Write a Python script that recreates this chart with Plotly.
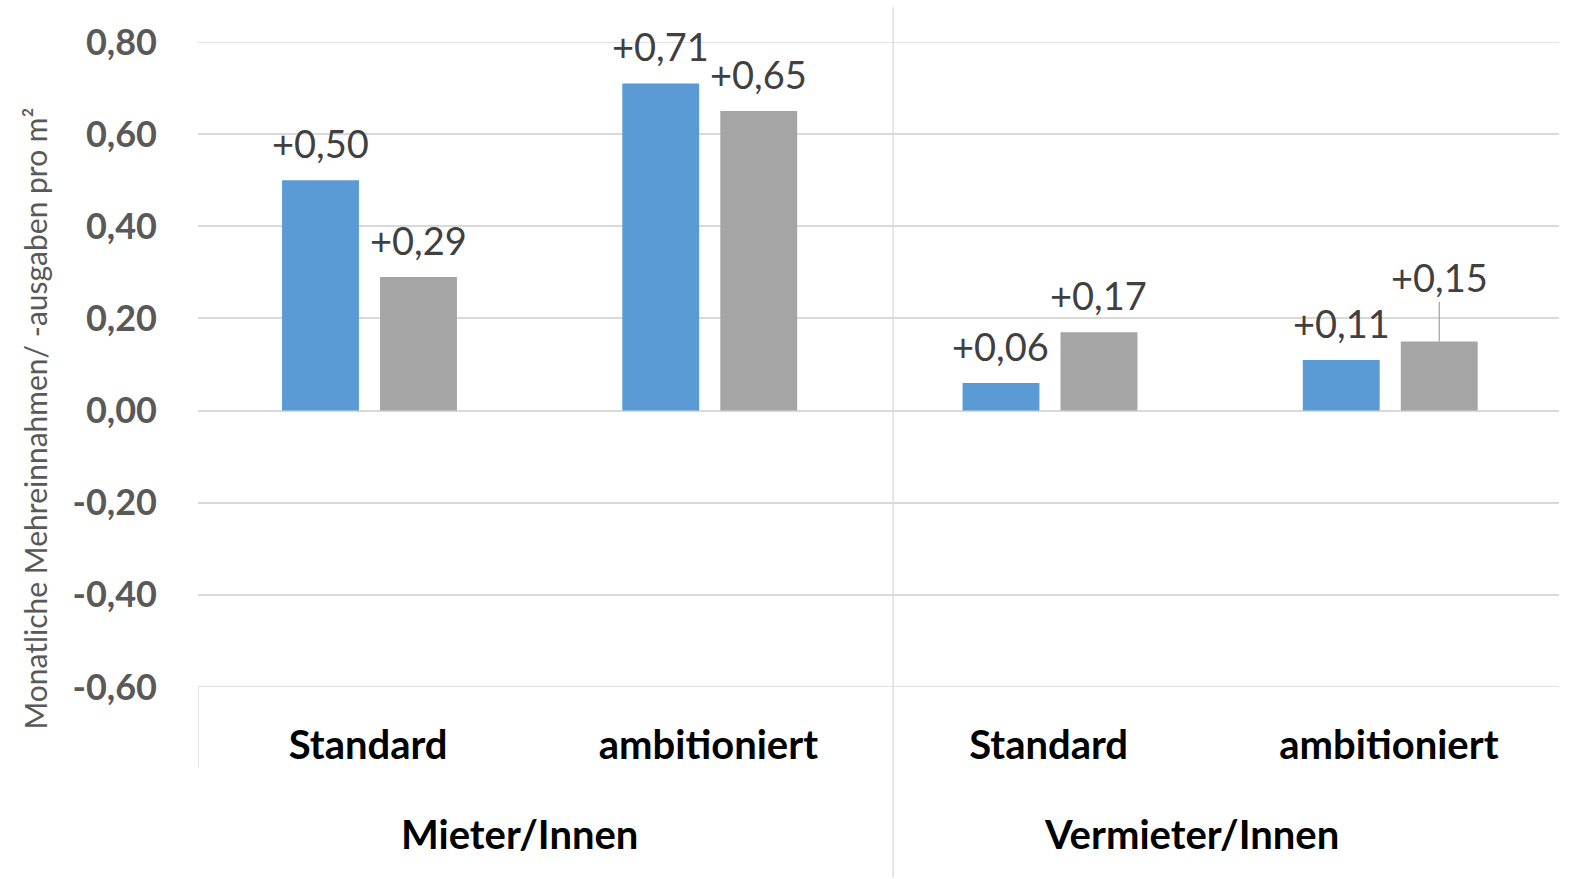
import plotly.graph_objects as go

# Data
categories = ["Standard", "ambitioniert", "Standard", "ambitioniert"]
groups = ["Mieter/Innen", "Vermieter/Innen"]
series_a = [0.50, 0.71, 0.06, 0.11]   # blue bars
series_b = [0.29, 0.65, 0.17, 0.15]   # grey bars
y_ticks = [0.80, 0.60, 0.40, 0.20, 0.00, -0.20, -0.40, -0.60]

BLUE = "#5B9BD5"
GREY = "#A5A5A5"
GRID = "#D9D9D9"
FONT = "Lato"

x_pos = list(range(len(categories)))
bar_w = 0.226
off_a = -0.253
off_b = 0.035


def fmt(v):
    return ("+" if v >= 0 else "") + f"{v:.2f}".replace(".", ",")


fig = go.Figure()
fig.add_trace(go.Bar(x=x_pos, y=series_a, width=bar_w, offset=off_a,
                     marker=dict(color=BLUE, line=dict(width=0)),
                     showlegend=False, hoverinfo="skip"))
fig.add_trace(go.Bar(x=x_pos, y=series_b, width=bar_w, offset=off_b,
                     marker=dict(color=GREY, line=dict(width=0)),
                     showlegend=False, hoverinfo="skip"))

annotations = []
label_font = dict(family=FONT, size=38, color="#404040")
for i, v in enumerate(series_a):
    annotations.append(dict(x=i + off_a + bar_w / 2, y=v, xref="x", yref="y",
                            text=fmt(v), showarrow=False, yanchor="bottom",
                            yshift=12, font=label_font))
for i, v in enumerate(series_b):
    if i == 3:
        # last label lifted with a leader line
        annotations.append(dict(x=i + off_b + bar_w / 2, y=v, xref="x", yref="y",
                                text=fmt(v), showarrow=True, arrowhead=0,
                                arrowwidth=1.2, arrowcolor="#A0A0A0",
                                ax=0, ay=-64, font=label_font))
    else:
        annotations.append(dict(x=i + off_b + bar_w / 2, y=v, xref="x", yref="y",
                                text=fmt(v), showarrow=False, yanchor="bottom",
                                yshift=12, font=label_font))

# Group labels under the category labels
group_x = [0.444, 2.42]
for gx, g in zip(group_x, groups):
    annotations.append(dict(x=gx, y=-0.228, xref="x", yref="paper", text=f"<b>{g}</b>",
                            showarrow=False, yanchor="middle",
                            font=dict(family=FONT, size=40, color="#000000")))

# Y axis title
annotations.append(dict(x=-0.12, y=0.4156, xref="paper", yref="paper",
                        xanchor="center", yanchor="middle",
                        text="Monatliche Mehreinnahmen/ -ausgaben pro m²",
                        textangle=-90, showarrow=False,
                        font=dict(family=FONT, size=30, color="#595959")))

shapes = [
    # divider between the two groups
    dict(type="line", xref="x", yref="paper", x0=1.543, x1=1.543,
         y0=1.054, y1=-0.295, line=dict(color=GRID, width=1.3)),
    # left edge of the category label area
    dict(type="line", xref="x", yref="paper", x0=-0.5, x1=-0.5,
         y0=0, y1=-0.125, line=dict(color=GRID, width=1.3)),
]
# grid lines at the top and bottom of the value range
for yv in (y_ticks[0], y_ticks[-1]):
    shapes.append(dict(type="line", xref="paper", yref="y", x0=0, x1=1,
                       y0=yv, y1=yv, line=dict(color=GRID, width=1.5), layer="below"))

fig.update_layout(
    width=1575, height=879,
    margin=dict(l=198, r=16, t=41.5, b=191.5),
    paper_bgcolor="white", plot_bgcolor="white",
    annotations=annotations, shapes=shapes,
    font=dict(family=FONT),
    xaxis=dict(range=[-0.5, 3.5], tickvals=x_pos, ticktext=[f"<b>{c}</b>" for c in categories],
               tickfont=dict(family=FONT, size=40, color="#000000"),
               showgrid=False, zeroline=False, showline=False, ticks="",
               ticklabelstandoff=31),
    yaxis=dict(range=[-0.6, 0.8], tickvals=y_ticks,
               ticktext=[f"<b>{t:.2f}</b>".replace(".", ",") for t in y_ticks],
               tickfont=dict(family=FONT, size=36, color="#595959"),
               showgrid=True, gridcolor=GRID, gridwidth=1.5,
               zeroline=False, showline=False, ticks="",
               ticklabelstandoff=40),
)

fig.write_html("out.html")
